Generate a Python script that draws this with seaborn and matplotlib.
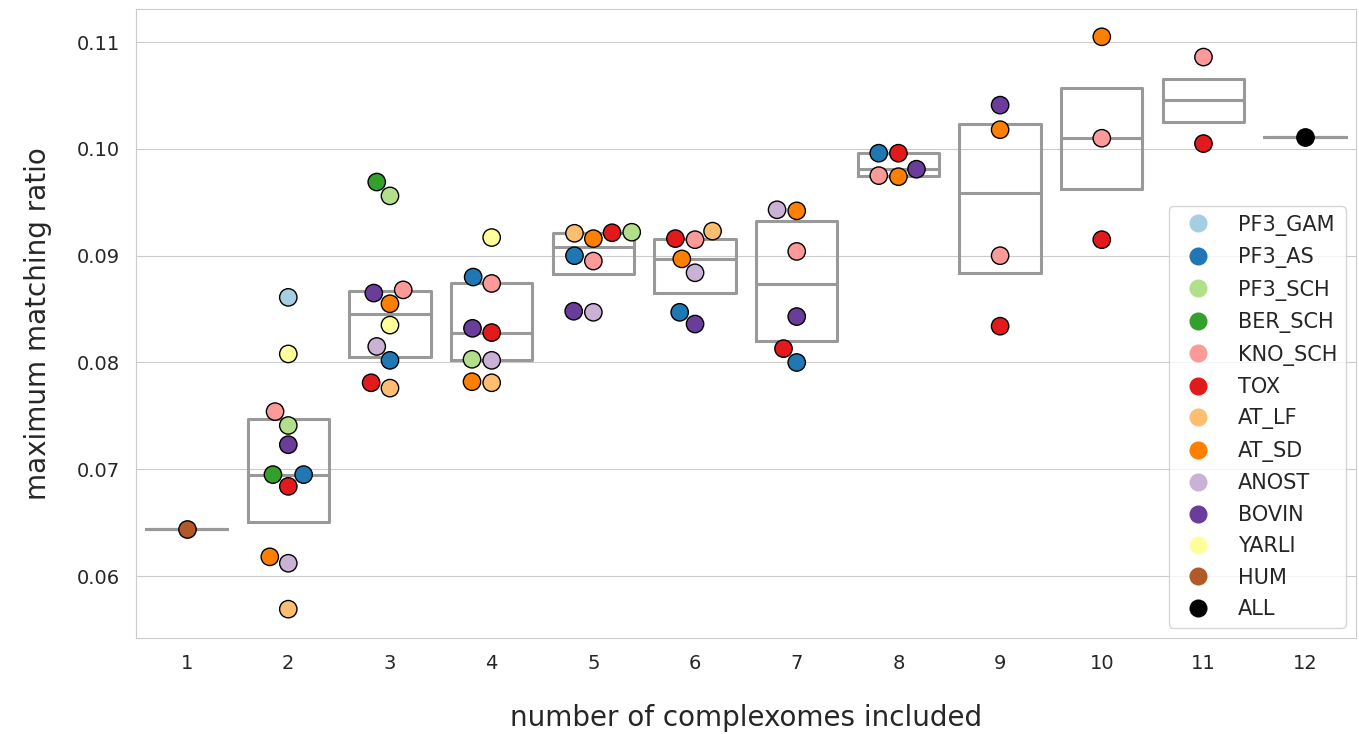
# maximum matching ratio per number of complexomes included

import pandas as pd
import matplotlib
matplotlib.use('Agg')
import matplotlib.pyplot as plt
from matplotlib.lines import Line2D
import seaborn as sns

# legend order and colours
complexome_order = ['PF3_GAM', 'PF3_AS', 'PF3_SCH', 'BER_SCH', 'KNO_SCH', 'TOX',
                    'AT_LF', 'AT_SD', 'ANOST', 'BOVIN', 'YARLI', 'HUM', 'ALL']
palette = sns.color_palette('Paired', 12) + [(0.0, 0.0, 0.0)]

# one row per point, grouped by number of complexomes
n_included = ([1] + [2] * 11 + [3] * 10 + [4] * 9 + [5] * 8 + [6] * 7
              + [7] * 6 + [8] * 5 + [9] * 4 + [10] * 3 + [11] * 2 + [12])

complexome = [
    'HUM',
    'PF3_GAM', 'YARLI', 'KNO_SCH', 'PF3_SCH', 'BOVIN', 'PF3_AS', 'BER_SCH', 'TOX', 'AT_SD', 'ANOST', 'AT_LF',
    'BER_SCH', 'PF3_SCH', 'KNO_SCH', 'BOVIN', 'AT_SD', 'YARLI', 'ANOST', 'PF3_AS', 'TOX', 'AT_LF',
    'YARLI', 'PF3_AS', 'KNO_SCH', 'BOVIN', 'TOX', 'PF3_SCH', 'ANOST', 'AT_SD', 'AT_LF',
    'AT_LF', 'TOX', 'PF3_SCH', 'AT_SD', 'PF3_AS', 'KNO_SCH', 'BOVIN', 'ANOST',
    'AT_LF', 'TOX', 'KNO_SCH', 'AT_SD', 'ANOST', 'PF3_AS', 'BOVIN',
    'ANOST', 'AT_SD', 'KNO_SCH', 'BOVIN', 'TOX', 'PF3_AS',
    'PF3_AS', 'TOX', 'BOVIN', 'KNO_SCH', 'AT_SD',
    'BOVIN', 'AT_SD', 'KNO_SCH', 'TOX',
    'AT_SD', 'KNO_SCH', 'TOX',
    'KNO_SCH', 'TOX',
    'ALL',
]

ratio = [
    0.0644,
    0.0861, 0.0808, 0.0754, 0.0741, 0.0723, 0.0695, 0.0695, 0.0684, 0.0618, 0.0612, 0.0569,
    0.0969, 0.0956, 0.0868, 0.0865, 0.0855, 0.0835, 0.0815, 0.0802, 0.0781, 0.0776,
    0.0917, 0.0880, 0.0874, 0.0832, 0.0828, 0.0803, 0.0802, 0.0782, 0.0781,
    0.0921, 0.09215, 0.0922, 0.0916, 0.0900, 0.0895, 0.0848, 0.0847,
    0.0923, 0.0916, 0.0915, 0.0897, 0.0884, 0.0847, 0.0836,
    0.0943, 0.0942, 0.0904, 0.0843, 0.0813, 0.0800,
    0.0996, 0.0996, 0.0981, 0.0975, 0.0974,
    0.1041, 0.1018, 0.0900, 0.0834,
    0.1105, 0.1010, 0.0915,
    0.1086, 0.1005,
    0.1011,
]

df = pd.DataFrame({'n': n_included, 'complexome': complexome, 'ratio': ratio})

sns.set_style('whitegrid')

fig = plt.figure(figsize=(13.59, 7.34), dpi=100)
ax = fig.add_axes([0.0999, 0.1308, 0.8979, 0.8569])

# boxes without whiskers, only outline
sns.boxplot(x='n', y='ratio', data=df, ax=ax, fill=False, color='.6',
            linewidth=2.2, whis=0, showfliers=False, showcaps=False, width=0.8)

sns.swarmplot(x='n', y='ratio', data=df, ax=ax, hue='complexome',
              hue_order=complexome_order, palette=palette, size=12.5,
              edgecolor='black', linewidth=1, legend=False)

ax.set_xlim(-0.5, 11.5)
ax.set_ylim(0.0542, 0.1131)
ax.set_yticks([0.06, 0.07, 0.08, 0.09, 0.10, 0.11])
ax.set_yticklabels(['0.06', '0.07', '0.08', '0.09', '0.10', '0.11'])
ax.tick_params(axis='both', labelsize=14, pad=8)

ax.set_xlabel('number of complexomes included', fontsize=20, labelpad=22)
ax.set_ylabel('maximum matching ratio', fontsize=20, labelpad=18)

handles = [Line2D([], [], marker='o', linestyle='', markersize=13,
                  markerfacecolor=c, markeredgewidth=0) for c in palette]
ax.legend(handles, complexome_order, loc='lower right', fontsize=15,
          labelspacing=0.55, handletextpad=0.9)

plt.savefig('out.png', dpi=100)
